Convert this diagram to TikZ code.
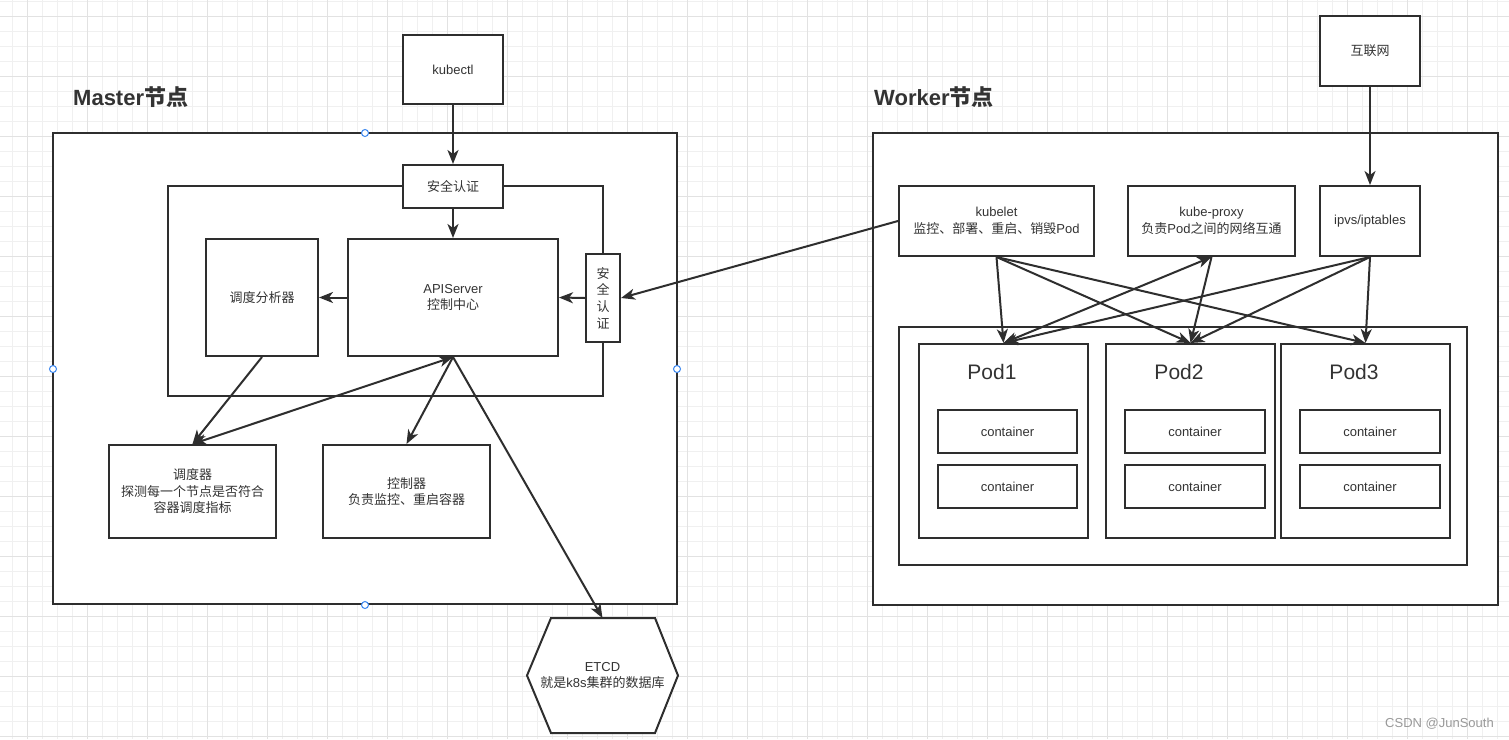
\documentclass[tikz,border=0pt]{standalone}
\usepackage{fontspec}
\setmainfont{Liberation Sans}
\newfontfamily\cjk{Noto Sans CJK SC}
\usetikzlibrary{arrows.meta}
\definecolor{ln}{HTML}{2E2E2E}
\definecolor{tx}{HTML}{333333}
\definecolor{gmin}{HTML}{F0F0F0}
\definecolor{gmaj}{HTML}{E2E2E2}
\definecolor{hdl}{HTML}{3A86F0}
\definecolor{wm}{HTML}{999999}
\begin{document}
\begin{tikzpicture}[x=1pt,y=-1pt,
  box/.style={draw=ln, line width=2pt, fill=white, inner sep=0pt, text=tx,
    font=\fontsize{13}{16.5}\selectfont, align=center},
  cbox/.style={box, font=\fontsize{13}{16.5}\selectfont\cjk},
  frame/.style={draw=ln, line width=2pt, fill=white},
  arr/.style={draw=ln, line width=2pt, -{Stealth[length=14pt,width=11pt,inset=4pt]}},
  darr/.style={draw=ln, line width=2pt, {Stealth[length=14pt,width=11pt,inset=4pt]}-{Stealth[length=14pt,width=11pt,inset=4pt]}},
  ttl/.style={text=tx, font=\fontsize{22}{26}\selectfont\bfseries, anchor=base west, inner sep=0pt},
  podlbl/.style={text=tx, font=\fontsize{21}{25}\selectfont, inner sep=0pt},
  handle/.style={circle, draw=hdl, fill=white, line width=1pt, minimum size=7pt, inner sep=0pt}
]
\useasboundingbox (0,0) rectangle (1509,739);
\fill[white] (0,0) rectangle (1509,739);
% grid
\foreach \i in {0,...,100} { \draw[gmin, line width=1pt] ({12.5+15*\i},0) -- ({12.5+15*\i},739); }
\foreach \i in {0,...,49} { \draw[gmin, line width=1pt] (0,{1.5+15*\i}) -- (1509,{1.5+15*\i}); }
\foreach \i in {0,...,25} { \draw[gmaj, line width=1pt] ({27.5+60*\i},0) -- ({27.5+60*\i},739); }
\foreach \i in {0,...,12} { \draw[gmaj, line width=1pt] (0,{16.5+60*\i}) -- (1509,{16.5+60*\i}); }

% titles
\node[ttl] (mtitle) at (73,105) {Master{\cjk 节点}};
\node[ttl] (wtitle) at (874,105) {Worker{\cjk 节点}};

% master
\draw[frame] (53,133) rectangle (677,604);
\draw[frame] (168,186) rectangle (603,396);
\node[box, minimum width=100pt, minimum height=69pt] (kubectl) at (453,69.5) {kubectl};
\node[cbox, minimum width=100pt, minimum height=43pt] (authtop) at (453,186.5) {安全认证};
\node[cbox, minimum width=34pt, minimum height=88pt, font=\fontsize{13}{16.7}\selectfont\cjk] (authside) at (603,298) {安\\全\\认\\证};
\node[cbox, minimum width=112pt, minimum height=117pt] (analyzer) at (262,297.5) {调度分析器};
\node[box, minimum width=210pt, minimum height=117pt] (api) at (453,297.5) {APIServer\\{\cjk 控制中心}};
\node[cbox, minimum width=167pt, minimum height=93pt] (sched) at (192.5,491.5) {调度器\\探测每一个节点是否符合\\容器调度指标};
\node[cbox, minimum width=167pt, minimum height=93pt] (ctrl) at (406.5,491.5) {控制器\\负责监控、重启容器};
\node[box, draw=none, fill=none, minimum width=149pt, minimum height=113pt] (etcd) at (602.5,675.5) {};
\draw[frame] (etcd.west) -- ([xshift=24pt]etcd.north west) -- ([xshift=-23pt]etcd.north east) -- (etcd.east)
  -- ([xshift=-23pt]etcd.south east) -- ([xshift=24pt]etcd.south west) -- cycle;
\node[text=tx, font=\fontsize{13}{16.5}\selectfont, align=center] (etcdtxt) at (etcd.center) {ETCD\\{\cjk 就是}k8s{\cjk 集群的数据库}};

% worker
\draw[frame] (873,133) rectangle (1498,605);
\node[cbox, minimum width=100pt, minimum height=70pt] (inet) at (1370,51) {互联网};
\node[box, minimum width=195pt, minimum height=70pt] (kubelet) at (996.5,221) {kubelet\\{\cjk 监控、部署、重启、销毁}Pod};
\node[box, minimum width=167pt, minimum height=70pt] (proxy) at (1211.5,221) {kube-proxy\\{\cjk 负责}Pod{\cjk 之间的网络互通}};
\node[box, minimum width=100pt, minimum height=70pt] (ipvs) at (1370,221) {ipvs/iptables};
\draw[frame] (899,327) rectangle (1467,565);
\node[box, minimum width=169pt, minimum height=194pt] (pod1) at (1003.5,441) {};
\node[box, minimum width=169pt, minimum height=194pt] (pod2) at (1190.5,441) {};
\node[box, minimum width=169pt, minimum height=194pt] (pod3) at (1365.5,441) {};
\node[podlbl] (p1l) at (992,372) {Pod1};
\node[podlbl] (p2l) at (1179,372) {Pod2};
\node[podlbl] (p3l) at (1354,372) {Pod3};
\node[box, minimum width=139pt, minimum height=43pt] (c11) at (1007.5,431.5) {container};
\node[box, minimum width=139pt, minimum height=43pt] (c12) at (1007.5,486.5) {container};
\node[box, minimum width=140pt, minimum height=43pt] (c21) at (1195,431.5) {container};
\node[box, minimum width=140pt, minimum height=43pt] (c22) at (1195,486.5) {container};
\node[box, minimum width=140pt, minimum height=43pt] (c31) at (1370,431.5) {container};
\node[box, minimum width=140pt, minimum height=43pt] (c32) at (1370,486.5) {container};

% arrows master
\draw[arr] (kubectl.south) -- (authtop.north);
\draw[arr] (authtop.south) -- (api.north);
\draw[arr] (api.west) -- (analyzer.east);
\draw[arr] (authside.west) -- (api.east);
\draw[arr] (kubelet.west) -- (authside.east);
\draw[arr] (analyzer.south) -- (sched.north);
\draw[darr] (sched.north) -- (api.south);
\draw[arr] (api.south) -- (ctrl.north);
\draw[arr] (api.south) -- (etcd.north);

% arrows worker
\draw[arr] (inet.south) -- (ipvs.north);
\draw[arr] (kubelet.south) -- (pod1.north);
\draw[arr] (kubelet.south) -- (pod2.north);
\draw[arr] (kubelet.south) -- (pod3.north);
\draw[darr] (proxy.south) -- (pod1.north);
\draw[arr] (proxy.south) -- (pod2.north);
\draw[arr] (ipvs.south) -- (pod1.north);
\draw[arr] (ipvs.south) -- (pod2.north);
\draw[arr] (ipvs.south) -- (pod3.north);

% selection handles
\node[handle] (h1) at (365,133) {};
\node[handle] (h2) at (53,369) {};
\node[handle] (h3) at (677,369) {};
\node[handle] (h4) at (365,605) {};

% watermark
\node[text=wm, font=\fontsize{13}{15}\selectfont, anchor=east, inner sep=0pt] (wmark) at (1494,724) {CSDN @JunSouth};
\end{tikzpicture}
\end{document}
